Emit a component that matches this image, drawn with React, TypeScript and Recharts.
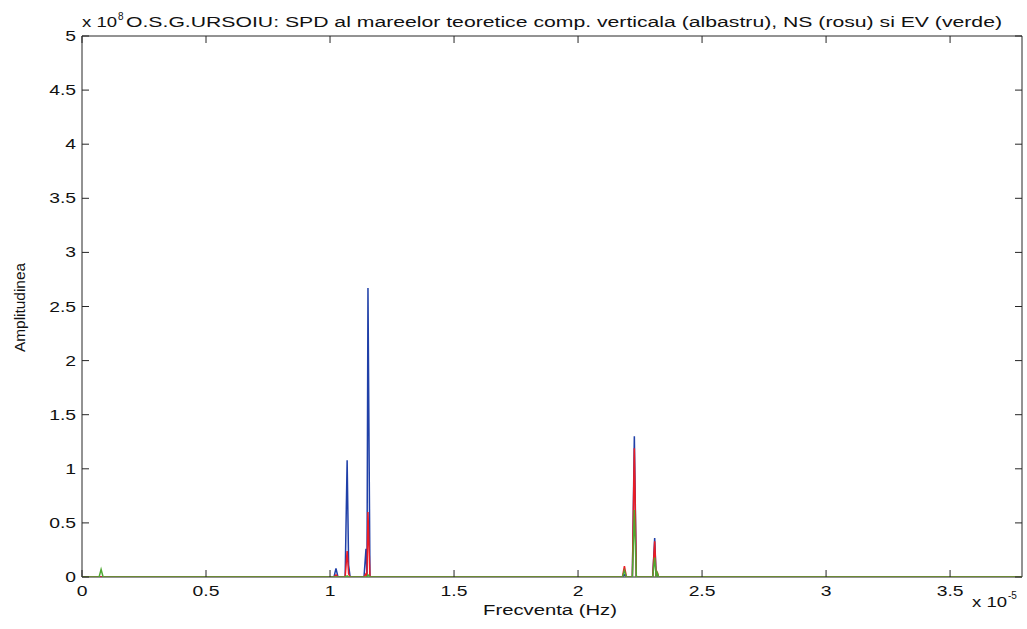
import { LineChart, Line, XAxis, YAxis, ReferenceArea } from "recharts";

// frequency in units of 1e-5 Hz, amplitude in units of 1e8
const freq = [
  0, 0.069, 0.077, 0.085, 1.016, 1.024, 1.032, 1.061, 1.069, 1.075, 1.081,
  1.137, 1.145, 1.149, 1.153, 1.161, 2.179, 2.187, 2.195, 2.219, 2.227, 2.235,
  2.301, 2.309, 2.315, 2.319, 2.325, 3.79,
];
const vert = [
  0, 0, 0, 0, 0, 0.08, 0, 0, 1.08, 0.11, 0,
  0, 0.26, 0, 2.67, 0, 0, 0.02, 0, 0, 1.3, 0,
  0, 0.36, 0, 0, 0, 0,
];
const ns = [
  0, 0, 0, 0, 0, 0.02, 0, 0, 0.24, 0.03, 0,
  0, 0.03, 0, 0.6, 0, 0, 0.1, 0, 0, 1.19, 0,
  0, 0.33, 0, 0.05, 0, 0,
];
const ev = [
  0, 0, 0.07, 0, 0, 0, 0, 0, 0.01, 0, 0,
  0, 0, 0, 0.02, 0, 0, 0.06, 0, 0, 0.62, 0,
  0, 0.18, 0, 0.04, 0, 0,
];
const xTicks = [0, 0.5, 1, 1.5, 2, 2.5, 3, 3.5];
const yTicks = [0, 0.5, 1, 1.5, 2, 2.5, 3, 3.5, 4, 4.5, 5];

const data = freq.map((f, i) => ({ f, v: vert[i], n: ns[i], e: ev[i] }));

const axisColor = "#262626";
const txt = "#111";
const font = "Liberation Sans, Arial, sans-serif";
const W = 1027;
const H = 629;
const margin = { top: 36, right: 5, bottom: 22, left: 0 };
const plotTop = margin.top;
const plotRight = W - margin.right;

// bottom ticks point inward, and mirror onto the top edge of the box
const BottomTick = (props: any) => {
  const { x, y, payload } = props;
  return (
    <g>
      <line x1={x} x2={x} y1={y} y2={y - 7} stroke={axisColor} />
      <line x1={x} x2={x} y1={plotTop} y2={plotTop + 7} stroke={axisColor} />
      <text
        transform={`translate(${x},${y + 19}) scale(1.38,1)`}
        textAnchor="middle"
        fontSize={14}
        fontFamily={font}
        fill={txt}
      >
        {String(payload.value)}
      </text>
    </g>
  );
};

const LeftTick = (props: any) => {
  const { x, y, payload } = props;
  return (
    <g>
      <line x1={x} x2={x + 7} y1={y} y2={y} stroke={axisColor} />
      <line x1={plotRight} x2={plotRight - 7} y1={y} y2={y} stroke={axisColor} />
      <text
        transform={`translate(${x - 6},${y + 5}) scale(1.38,1)`}
        textAnchor="end"
        fontSize={14}
        fontFamily={font}
        fill={txt}
      >
        {String(payload.value)}
      </text>
    </g>
  );
};

export default function App() {
  return (
    <div style={{ position: "absolute", left: 0, top: 0, width: W, height: H, background: "#fff" }}>
      <LineChart width={W} height={H} data={data} margin={margin}>
        <XAxis
          dataKey="f"
          type="number"
          domain={[0, 3.79]}
          ticks={xTicks}
          allowDataOverflow
          height={30}
          tickSize={0}
          tickMargin={0}
          axisLine={false}
          tick={<BottomTick />}
        />
        <YAxis
          type="number"
          domain={[0, 5]}
          ticks={yTicks}
          allowDataOverflow
          width={82}
          tickSize={0}
          tickMargin={0}
          axisLine={false}
          tick={<LeftTick />}
        />
        <ReferenceArea x1={0} x2={3.79} y1={0} y2={5} fill="none" stroke={axisColor} strokeWidth={1} ifOverflow="visible" />
        <Line type="linear" dataKey="v" stroke="#2040a8" strokeWidth={1.5} dot={false} isAnimationActive={false} />
        <Line type="linear" dataKey="n" stroke="#ec1c24" strokeWidth={1.5} dot={false} isAnimationActive={false} />
        <Line type="linear" dataKey="e" stroke="#4fa832" strokeWidth={1.5} dot={false} isAnimationActive={false} />
      </LineChart>
      <svg
        width={W}
        height={H}
        style={{ position: "absolute", left: 0, top: 0, pointerEvents: "none" }}
        fontFamily={font}
        fill={txt}
      >
        <text x={82} y={27} fontSize={14} textLength={35} lengthAdjust="spacingAndGlyphs">x 10</text>
        <text x={118} y={20} fontSize={10}>8</text>
        <text x={126} y={27} fontSize={14} textLength={876} lengthAdjust="spacingAndGlyphs">
          O.S.G.URSOIU: SPD al mareelor teoretice comp. verticala (albastru), NS (rosu) si EV (verde)
        </text>
        <text x={483} y={615} fontSize={14} textLength={134} lengthAdjust="spacingAndGlyphs">Frecventa (Hz)</text>
        <text
          transform="translate(25,352) rotate(-90)"
          fontSize={14}
          textLength={89}
          lengthAdjust="spacingAndGlyphs"
        >
          Amplitudinea
        </text>
        <text x={972} y={607} fontSize={14} textLength={35} lengthAdjust="spacingAndGlyphs">x 10</text>
        <text x={1008} y={599} fontSize={10}>-5</text>
      </svg>
    </div>
  );
}
